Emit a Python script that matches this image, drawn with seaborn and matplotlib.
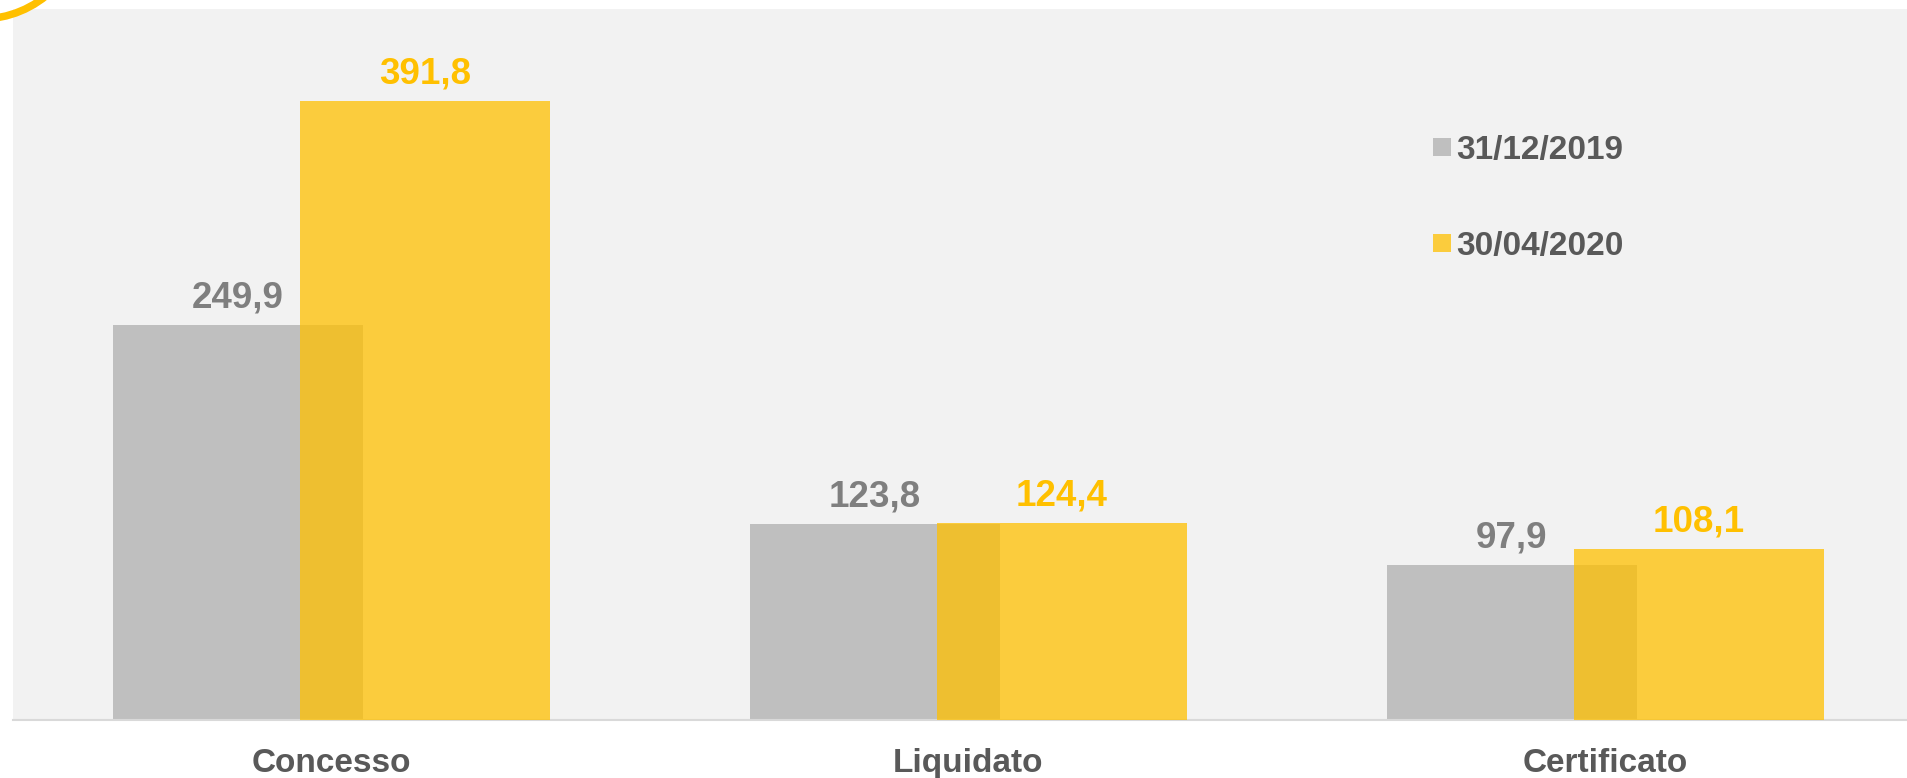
import seaborn as sns
import matplotlib.pyplot as plt
import pandas as pd
from matplotlib.lines import Line2D
from matplotlib.patches import Ellipse

# dati (milioni di euro)
categorie = ["Concesso", "Liquidato", "Certificato"]
valori_2019 = [249.9, 123.8, 97.9]
valori_2020 = [391.8, 124.4, 108.1]
date_serie = ["31/12/2019", "30/04/2020"]

GRIGIO = "#bfbfbf"
GIALLO = "#ffc000"
TESTO = "#595959"

sns.set_theme(style="white")
plt.rcParams["font.family"] = ["Liberation Sans", "DejaVu Sans"]

fig = plt.figure(figsize=(19.08, 7.78), dpi=100)
ax = fig.add_axes([13 / 1908, 58 / 778, 1 - 13 / 1908, 711 / 778])
ax.set_facecolor("#f2f2f2")

shift = 0.147
pos = list(range(len(categorie)))
df19 = pd.DataFrame({"x": [p - shift for p in pos], "valore": valori_2019})
df20 = pd.DataFrame({"x": [p + shift for p in pos], "valore": valori_2020})

sns.barplot(data=df19, x="x", y="valore", native_scale=True, width=0.392,
            color=GRIGIO, saturation=1, linewidth=0, ax=ax, zorder=2)
sns.barplot(data=df20, x="x", y="valore", native_scale=True, width=0.392,
            color=GIALLO, alpha=0.75, saturation=1, linewidth=0, ax=ax, zorder=3)

fmt = lambda v: f"{v:.1f}".replace(".", ",")
ax.bar_label(ax.containers[0], labels=[fmt(v) for v in valori_2019], padding=7,
             fontsize=26.5, fontweight="bold", color="#7f7f7f")
ax.bar_label(ax.containers[1], labels=[fmt(v) for v in valori_2020], padding=7,
             fontsize=26.5, fontweight="bold", color=GIALLO)

ax.set_xlim(-0.5, 2.475)
ax.set_ylim(0, 450)
ax.set_xticks(pos)
ax.set_xticklabels(categorie, fontsize=24, fontweight="bold", color=TESTO)
ax.tick_params(axis="x", length=0, pad=20)
ax.set_yticks([])
ax.set_xlabel("")
ax.set_ylabel("")
for s in ["top", "right", "left"]:
    ax.spines[s].set_visible(False)
ax.spines["bottom"].set_color("#d9d9d9")
ax.spines["bottom"].set_linewidth(1.5)

handles = [Line2D([], [], marker="s", linestyle="", markersize=13.5,
                  markerfacecolor=GRIGIO, markeredgewidth=0),
           Line2D([], [], marker="s", linestyle="", markersize=13.5,
                  markerfacecolor=GIALLO, alpha=0.75, markeredgewidth=0)]
leg = ax.legend(handles, date_serie, loc="upper left", bbox_to_anchor=(0.742, 0.842),
                frameon=False, labelspacing=1.95, handlelength=0.6, handletextpad=0.1,
                borderaxespad=0, prop={"size": 24, "weight": "bold"})
for t in leg.get_texts():
    t.set_color(TESTO)

# arco decorativo in alto a sinistra
r = 103
fig.patches.append(Ellipse((-19 / 1908, 1 + 84 / 778), 2 * r / 1908, 2 * r / 778,
                           transform=fig.transFigure, fill=False, edgecolor=GIALLO,
                           linewidth=5.4, zorder=5))

plt.savefig("out.png", dpi=100)
